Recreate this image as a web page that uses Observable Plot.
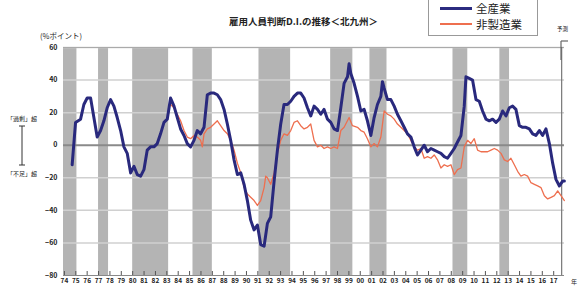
<!DOCTYPE html>
<html><head><meta charset="utf-8">
<script src="https://cdn.jsdelivr.net/npm/d3@7"></script>
<script src="https://cdn.jsdelivr.net/npm/@observablehq/plot@0.6"></script>
<style>
body{margin:0;background:#fff;font-family:"Noto Sans CJK JP",sans-serif;}
#wrap{position:relative;width:583px;height:287px;overflow:hidden;}
#chart{position:absolute;left:0;top:0;}
.t{position:absolute;white-space:nowrap;color:#222;}
</style></head><body>
<div id="wrap">
<div id="chart"></div>
<div class="t" style="left:229px;top:14px;font-size:9.5px;font-weight:bold;">雇用人員判断D.I.の推移＜北九州＞</div>
<div class="t" style="left:40px;top:30px;font-size:7.5px;">(%ポイント)</div>
<div class="t" style="left:7px;top:114px;font-size:6px;">「過剰」超</div>
<div class="t" style="left:7px;top:169px;font-size:6px;">「不足」超</div>
<svg style="position:absolute;left:0;top:0" width="583" height="287">
 <line x1="22" y1="126" x2="22" y2="165" stroke="#333" stroke-width="1"/>
 <line x1="19" y1="126" x2="25" y2="126" stroke="#333"/>
 <line x1="19" y1="165" x2="25" y2="165" stroke="#333"/>
 <line x1="561" y1="41" x2="568" y2="41" stroke="#666" stroke-width="1.2"/>
 <line x1="561" y1="41" x2="561" y2="60" stroke="#666" stroke-width="1.2"/>
</svg>
<div class="t" style="left:557px;top:25px;font-size:5.5px;">予測</div>
<div class="t" style="left:571px;top:277px;font-size:6px;">年</div>
<div style="position:absolute;left:428px;top:-6px;width:108px;height:40px;border:1px solid #999;background:#fff;">
 <div style="position:absolute;left:11px;top:12px;width:32px;height:3px;background:#2b2b80;"></div>
 <div class="t" style="left:47px;top:5px;font-size:11.5px;">全産業</div>
 <div style="position:absolute;left:11px;top:28px;width:32px;height:2px;background:#ee6f4f;"></div>
 <div class="t" style="left:47px;top:21px;font-size:11.5px;">非製造業</div>
</div>
</div>
<script>
const blueYear=[1974.68,1974.98,1975.42,1975.71,1976.00,1976.30,1976.59,1976.88,1977.18,1977.47,1977.76,1978.06,1978.35,1978.64,1978.94,1979.23,1979.52,1979.82,1980.11,1980.40,1980.70,1980.99,1981.28,1981.57,1981.87,1982.16,1982.45,1982.75,1983.04,1983.33,1983.63,1983.92,1984.21,1984.51,1984.80,1985.09,1985.39,1985.68,1985.97,1986.27,1986.56,1986.85,1987.15,1987.44,1987.73,1988.03,1988.32,1988.61,1988.91,1989.20,1989.50,1989.79,1990.08,1990.37,1990.67,1990.96,1991.25,1991.55,1991.84,1992.13,1992.43,1992.72,1993.01,1993.30,1993.60,1993.89,1994.18,1994.48,1994.77,1995.06,1995.36,1995.65,1995.94,1996.24,1996.53,1996.82,1997.12,1997.41,1997.70,1998.00,1998.29,1998.58,1998.88,1999.02,1999.17,1999.46,1999.76,2000.05,2000.34,2000.63,2000.93,2001.22,2001.51,2001.81,2001.95,2002.10,2002.39,2002.69,2002.98,2003.27,2003.57,2003.86,2004.15,2004.45,2004.74,2005.03,2005.33,2005.62,2005.91,2006.21,2006.50,2006.79,2007.09,2007.38,2007.67,2007.97,2008.26,2008.55,2008.85,2009.14,2009.29,2009.58,2009.87,2010.17,2010.46,2010.75,2011.05,2011.34,2011.63,2011.93,2012.22,2012.51,2012.81,2013.10,2013.39,2013.68,2013.98,2014.27,2014.56,2014.86,2015.15,2015.44,2015.74,2016.03,2016.32,2016.62,2016.91,2017.20,2017.50,2017.79,2017.94];
const blueVal=[-12,14,16,25,29,29,17,5,9,15,23,28,24,17,9,-1,-5,-17,-13,-18,-19,-15,-3,-1,-1,1,7,14,16,29,24,17,10,6,1,-1,3,9,7,11,31,32,32,31,28,22,13,3,-9,-18,-17,-24,-34,-46,-52,-49,-61,-62,-48,-44,-22,-3,13,25,25,27,30,32,32,29,23,18,24,22,19,22,16,14,10,9,23,38,42,50,44,38,30,21,22,15,6,17,25,30,39,35,28,28,24,19,15,11,7,5,-1,-6,-3,0,-4,-2,-3,-4,-5,-7,-8,-5,-2,2,6,24,42,41,40,28,27,21,16,15,16,14,16,21,18,23,24,22,12,11,11,10,7,6,9,6,10,1,-11,-21,-25,-22,-22];
const redYear=[1983.33,1983.63,1983.92,1984.21,1984.51,1984.80,1985.09,1985.39,1985.68,1985.97,1986.12,1986.27,1986.56,1986.85,1987.15,1987.44,1987.73,1988.03,1988.32,1988.61,1988.91,1989.20,1989.50,1989.79,1990.08,1990.37,1990.67,1990.96,1991.25,1991.55,1991.69,1991.84,1992.13,1992.43,1992.72,1993.01,1993.30,1993.60,1993.89,1994.18,1994.48,1994.77,1995.06,1995.36,1995.65,1995.94,1996.24,1996.53,1996.82,1997.12,1997.41,1997.70,1998.00,1998.29,1998.58,1999.02,1999.31,1999.76,2000.05,2000.34,2000.63,2000.93,2001.22,2001.51,2001.81,2002.10,2002.39,2002.69,2002.98,2003.27,2003.57,2003.86,2004.15,2004.45,2004.74,2005.03,2005.33,2005.62,2005.91,2006.21,2006.50,2006.79,2007.09,2007.38,2007.67,2007.97,2008.26,2008.55,2008.85,2009.14,2009.43,2009.72,2010.02,2010.31,2010.61,2010.90,2011.19,2011.49,2011.78,2012.07,2012.37,2012.66,2012.95,2013.24,2013.54,2013.83,2014.12,2014.42,2014.71,2015.00,2015.30,2015.59,2015.88,2016.18,2016.47,2016.77,2017.06,2017.35,2017.64,2017.94];
const redVal=[25,23,19,15,9,5,4,6,5,3,-1,7,10,11,13,15,12,9,7,3,-3,-11,-17,-26,-30,-32,-34,-37,-34,-26,-19,-20,-24,-17,-5,3,7,6,9,14,15,12,10,11,13,3,-1,0,-2,-1,-2,-1,-2,9,11,17,12,11,9,8,4,-1,1,-1,5,21,19,18,16,13,11,9,7,3,-1,-3,-2,-8,-7,-8,-6,-9,-14,-12,-13,-12,-18,-15,-14,-1,3,1,4,-3,-4,-4,-4,-3,-2,-3,-5,-9,-10,-8,-12,-16,-19,-18,-19,-23,-24,-25,-26,-31,-33,-32,-31,-28,-31,-34];
const bandStart=[1973.92,1977.0,1980.0,1985.3,1991.1,1997.4,2000.85,2008.15,2012.27];
const bandEnd=[1975.1,1977.88,1983.16,1987.0,1993.88,1999.35,2002.35,2009.45,2013.12];
const yearTicks=d3.range(1974,2018);
const yTicks=[-80,-60,-40,-20,0,20,40,60];
const gridVals=[-60,-40,-20,20,40,60];

const blue=blueYear.map((x,i)=>({x,v:blueVal[i]}));
const red=redYear.map((x,i)=>({x,v:redVal[i]}));
const bands=bandStart.map((s,i)=>({s,e:bandEnd[i]}));

const chart=Plot.plot({
  width:583,height:287,
  marginTop:47,marginBottom:12,marginLeft:63,marginRight:19,
  x:{domain:[1973.92,2017.95]},
  y:{domain:[-80,60]},
  style:{fontFamily:"Noto Sans CJK JP, sans-serif",color:"#222",background:"transparent"},
  marks:[
    Plot.rect(bands,{x1:"s",x2:"e",fill:"#b4b4b4"}),
    Plot.ruleY(gridVals,{stroke:"#d0d0d0",strokeWidth:1.5}),
    Plot.ruleY([60],{stroke:"#aaa",strokeWidth:1.2}),
    Plot.ruleY([0],{stroke:"#8a8a8a",strokeWidth:2}),
    Plot.ruleY([-80],{stroke:"#888",strokeWidth:1.2}),
    Plot.ruleX([2017.7],{stroke:"#777",strokeWidth:1.2}),
    Plot.axisY({ticks:yTicks,tickSize:0,tickPadding:6,fontSize:7,fontWeight:"bold",label:null}),
    Plot.axisX({ticks:yearTicks,tickSize:-4,tickPadding:7,fontSize:6.5,fontWeight:"bold",label:null,tickFormat:d=>String(d%100).padStart(2,"0"),stroke:"#555"}),
    Plot.line(red,{x:"x",y:"v",stroke:"#ee6f4f",strokeWidth:1.3}),
    Plot.line(blue,{x:"x",y:"v",stroke:"#29297d",strokeWidth:3})
  ]
});
document.getElementById("chart").appendChild(chart);
</script>
</body></html>
